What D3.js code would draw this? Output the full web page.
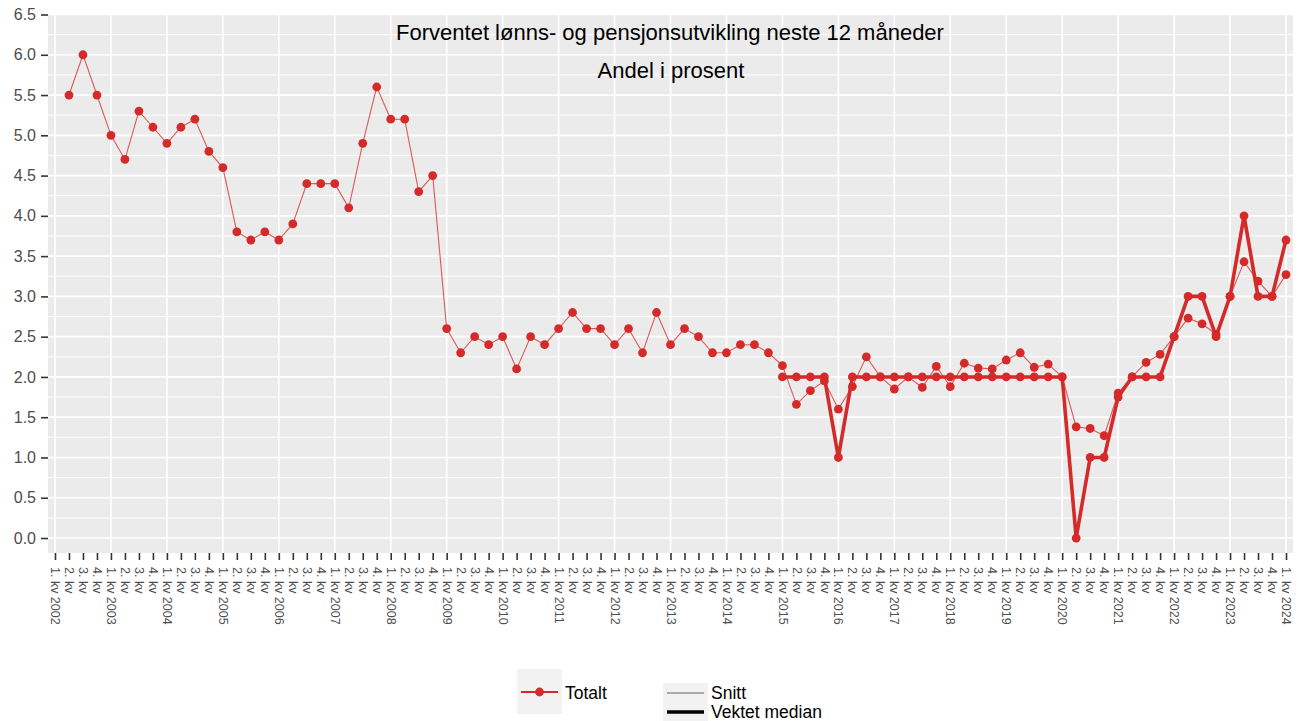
<!DOCTYPE html>
<html>
<head>
<meta charset="utf-8">
<script src="https://cdn.jsdelivr.net/npm/d3@7"></script>
<style>
  html, body { margin: 0; padding: 0; background: #ffffff; }
  svg { display: block; font-family: "Liberation Sans", Arial, Helvetica, sans-serif; }
</style>
</head>
<body>
<svg id="chart" width="1301" height="721"></svg>
<script>
// ---------- DATA ----------
const years = [2002,2003,2004,2005,2006,2007,2008,2009,2010,2011,2012,2013,2014,2015,2016,2017,2018,2019,2020,2021,2022,2023,2024];
const quarterNames = ["1. kv", "2. kv", "3. kv", "4. kv"];
// category labels: "1. kv 2002", "2. kv", ... "1. kv 2024"
const categories = [];
years.forEach(yr => quarterNames.forEach((q, i) => {
  if (yr < 2024 || i === 0) categories.push(i === 0 ? q + " " + yr : q);
}));

// Snitt: from 2. kv 2002 to 1. kv 2024
const snittStart = 1;
const snitt = [
  5.5, 6.0, 5.5, 5.0, 4.7, 5.3, 5.1, 4.9, 5.1, 5.2, 4.8, 4.6, 3.8, 3.7, 3.8, 3.7, 3.9, 4.4, 4.4, 4.4,
  4.1, 4.9, 5.6, 5.2, 5.2, 4.3, 4.5, 2.6, 2.3,
  2.5, 2.4, 2.5, 2.1, 2.5, 2.4, 2.6, 2.8, 2.6, 2.6, 2.4, 2.6, 2.3, 2.8, 2.4, 2.6, 2.5, 2.3, 2.3, 2.4, 2.4, 2.3,
  2.14, 1.66, 1.83, 1.95, 1.60, 1.88, 2.25, 2.0, 1.85, 2.0, 1.87, 2.13, 1.88, 2.17, 2.11, 2.10, 2.21, 2.30,
  2.12, 2.16, 2.0, 1.38, 1.36, 1.27, 1.80, 2.0, 2.18, 2.28, 2.5, 2.73, 2.66, 2.53, 3.0, 3.43, 3.19, 3.0, 3.27
];
// Vektet median: from 1. kv 2015 to 1. kv 2024
const medianStart = 52;
const median = [
  2, 2, 2, 2, 1, 2, 2, 2, 2, 2, 2, 2, 2, 2, 2, 2, 2, 2, 2, 2, 2,
  0, 1, 1, 1.75, 2, 2, 2, 2.5, 3, 3, 2.5, 3, 4, 3, 3, 3.7
];
const yTicks = [0, 0.5, 1, 1.5, 2, 2.5, 3, 3.5, 4, 4.5, 5, 5.5, 6, 6.5];
const yMinor = [0.25, 0.75, 1.25, 1.75, 2.25, 2.75, 3.25, 3.75, 4.25, 4.75, 5.25, 5.75, 6.25];
const title = "Forventet lønns- og pensjonsutvikling neste 12 måneder";
const subtitle = "Andel i prosent";
const legendColour = ["Totalt"];
const legendSeries = ["Snitt", "Vektet median"];

// ---------- LAYOUT ----------
const red = "#d42a2a";
const panel = { left: 48, right: 1293, top: 14.5, bottom: 553 };
const svg = d3.select("#chart");

const idx = categories.map((c, i) => i);
const x = d3.scalePoint().domain(idx).range([panel.left, panel.right]).padding(0.5);
const y = d3.scaleLinear().domain([-0.186, 6.5]).range([panel.bottom, panel.top]);

// panel background
svg.append("rect")
  .attr("x", panel.left).attr("y", panel.top)
  .attr("width", panel.right - panel.left).attr("height", panel.bottom - panel.top)
  .attr("fill", "#ebebeb");

const grid = svg.append("g");
grid.selectAll("line.minor").data(yMinor).enter().append("line")
  .attr("x1", panel.left).attr("x2", panel.right)
  .attr("y1", d => y(d)).attr("y2", d => y(d))
  .attr("stroke", "#ffffff").attr("stroke-width", 0.9);
grid.selectAll("line.major").data(yTicks).enter().append("line")
  .attr("x1", panel.left).attr("x2", panel.right)
  .attr("y1", d => y(d)).attr("y2", d => y(d))
  .attr("stroke", "#ffffff").attr("stroke-width", 1.7);
grid.selectAll("line.vert").data(idx.filter(i => categories[i].startsWith("1. kv"))).enter().append("line")
  .attr("x1", d => x(d)).attr("x2", d => x(d))
  .attr("y1", panel.top).attr("y2", panel.bottom)
  .attr("stroke", "#ffffff").attr("stroke-width", 1.7);

// ---------- AXES ----------
const yAxis = svg.append("g")
  .attr("transform", `translate(${panel.left},0)`)
  .call(d3.axisLeft(y).tickValues(yTicks).tickFormat(d3.format(".1f")).tickSize(7).tickPadding(5));
yAxis.select(".domain").remove();
yAxis.selectAll(".tick line").attr("stroke", "#333333").attr("stroke-width", 1.6);
yAxis.selectAll(".tick text").attr("fill", "#4d4d4d").attr("font-size", "16px")
  .attr("font-family", "Liberation Sans, Arial, sans-serif");

const xAxis = svg.append("g")
  .attr("transform", `translate(0,${panel.bottom})`)
  .call(d3.axisBottom(x).tickFormat(i => categories[i]).tickSize(7).tickPadding(3));
xAxis.select(".domain").remove();
xAxis.selectAll(".tick line").attr("stroke", "#333333").attr("stroke-width", 1.6);
xAxis.selectAll(".tick text")
  .attr("fill", "#4d4d4d").attr("font-size", "12.5px")
  .attr("font-family", "Liberation Sans, Arial, sans-serif")
  .attr("text-anchor", "start")
  .attr("dy", "0.35em")
  .attr("transform", "translate(0,14) rotate(90)")
  .attr("x", 0).attr("y", 0);

// ---------- SERIES ----------
const snittData = snitt.map((v, i) => ({ c: snittStart + i, v }));
const medianData = median.map((v, i) => ({ c: medianStart + i, v }));
const line = d3.line().x(d => x(d.c)).y(d => y(d.v));

svg.append("path").datum(snittData)
  .attr("d", line).attr("fill", "none")
  .attr("stroke", red).attr("stroke-opacity", 0.75).attr("stroke-width", 1.1);
svg.append("g").selectAll("circle").data(snittData).enter().append("circle")
  .attr("cx", d => x(d.c)).attr("cy", d => y(d.v)).attr("r", 4.4).attr("fill", red);

svg.append("path").datum(medianData)
  .attr("d", line).attr("fill", "none")
  .attr("stroke", red).attr("stroke-width", 3.6).attr("stroke-linejoin", "round");
svg.append("g").selectAll("circle").data(medianData).enter().append("circle")
  .attr("cx", d => x(d.c)).attr("cy", d => y(d.v)).attr("r", 4.4).attr("fill", red);

// ---------- TITLES ----------
svg.append("text").attr("x", 670).attr("y", 40).attr("text-anchor", "middle")
  .attr("font-size", "22px").attr("fill", "#000").text(title);
svg.append("text").attr("x", 671).attr("y", 78).attr("text-anchor", "middle")
  .attr("font-size", "22px").attr("fill", "#000").text(subtitle);

// ---------- LEGEND ----------
const lg1 = svg.append("g").attr("transform", "translate(517,669)");
lg1.append("rect").attr("width", 45).attr("height", 45).attr("fill", "#f2f2f2");
lg1.append("line").attr("x1", 4).attr("x2", 41).attr("y1", 23).attr("y2", 23)
  .attr("stroke", red).attr("stroke-width", 2.2);
lg1.append("circle").attr("cx", 22.5).attr("cy", 23).attr("r", 4.4).attr("fill", red);
lg1.append("text").attr("x", 48).attr("y", 30).attr("font-size", "17.5px").attr("fill", "#000").text(legendColour[0]);

const lg2 = svg.append("g").attr("transform", "translate(663,683)");
lg2.append("rect").attr("width", 45).attr("height", 40).attr("fill", "#f2f2f2");
lg2.append("line").attr("x1", 4).attr("x2", 41).attr("y1", 10).attr("y2", 10)
  .attr("stroke", "#555555").attr("stroke-width", 0.9);
lg2.append("line").attr("x1", 4).attr("x2", 41).attr("y1", 29).attr("y2", 29)
  .attr("stroke", "#000000").attr("stroke-width", 3.6);
lg2.append("text").attr("x", 48).attr("y", 16).attr("font-size", "17.5px").attr("fill", "#000").text(legendSeries[0]);
lg2.append("text").attr("x", 48).attr("y", 35).attr("font-size", "17.5px").attr("fill", "#000").text(legendSeries[1]);
</script>
</body>
</html>
